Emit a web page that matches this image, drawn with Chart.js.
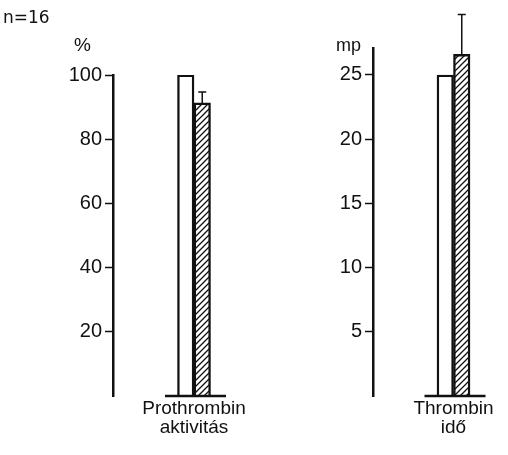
<!DOCTYPE html>
<html>
<head>
<meta charset="utf-8">
<script src="https://cdn.jsdelivr.net/npm/chart.js@4.4.0/dist/chart.umd.min.js"></script>
<style>
html,body{margin:0;padding:0;width:508px;height:455px;overflow:hidden;background:#fff;}
canvas{position:absolute;top:0;}
#cL{left:0;}
#cR{left:250px;}
</style>
</head>
<body>
<canvas id="cL" width="290" height="455"></canvas>
<canvas id="cR" width="290" height="455"></canvas>
<script>
// ---- data ----
const categoriesLeft = [['Prothrombin', 'aktivitás']];
const categoriesRight = [['Thrombin', 'idő']];
const seriesNames = ['kontroll', 'kezelt'];
const leftControl = [100];
const leftTreated = [91.3];
const leftTreatedErr = [3.4];
const rightControl = [25];
const rightTreated = [26.6];
const rightTreatedErr = [3.1];
const leftTickStep = 20;
const leftAxisMax = 100;
const rightTickStep = 5;
const rightAxisMax = 27.1;
const sampleNote = 'n=16';
const leftUnit = '%';
const rightUnit = 'mp';

const FONT = "'Liberation Sans', Arial, sans-serif";
const INK = '#111';

function hatch() {
  const c = document.createElement('canvas');
  c.width = 6; c.height = 6;
  const g = c.getContext('2d');
  g.fillStyle = '#fff'; g.fillRect(0, 0, 6, 6);
  g.strokeStyle = INK; g.lineWidth = 1.3;
  g.beginPath();
  g.moveTo(0, 6); g.lineTo(6, 0);
  g.moveTo(-1, 1); g.lineTo(1, -1);
  g.moveTo(5, 7); g.lineTo(7, 5);
  g.stroke();
  return g.createPattern(c, 'repeat');
}

const extrasPlugin = {
  id: 'extras',
  afterDatasetsDraw(chart, args, opts) {
    const ctx = chart.ctx;
    const ys = chart.scales.y, xs = chart.scales.x;
    ctx.save();
    ctx.strokeStyle = INK;
    const meta = chart.getDatasetMeta(1);
    const errs = opts.errors || [];
    meta.data.forEach((bar, i) => {
      const e = errs[i];
      if (e == null) return;
      const v = chart.data.datasets[1].data[i];
      const yTop = ys.getPixelForValue(v + e);
      ctx.lineWidth = 1.5;
      ctx.beginPath();
      ctx.moveTo(bar.x, bar.y);
      ctx.lineTo(bar.x, yTop);
      ctx.moveTo(bar.x - 4, yTop);
      ctx.lineTo(bar.x + 4, yTop);
      ctx.stroke();
    });
    const y0 = ys.getPixelForValue(0);
    const cx = xs.getPixelForValue(0);
    ctx.lineWidth = 2.5;
    ctx.beginPath();
    ctx.moveTo(cx - 29, y0);
    ctx.lineTo(cx + 32, y0);
    ctx.stroke();
    (opts.texts || []).forEach(t => {
      ctx.fillStyle = INK;
      ctx.font = t.font;
      ctx.textAlign = 'left';
      ctx.textBaseline = 'alphabetic';
      ctx.fillText(t.text, t.x, t.y);
    });
    ctx.restore();
  }
};

function makeChart(id, cats, ctrl, trt, err, step, max, yWidth, padTop, padRight, texts) {
  return new Chart(document.getElementById(id), {
    type: 'bar',
    data: {
      labels: cats,
      datasets: [
        { label: seriesNames[0], data: ctrl, backgroundColor: '#fff', borderColor: INK, borderWidth: 2.4, borderSkipped: 'start', barThickness: 16.5 },
        { label: seriesNames[1], data: trt, backgroundColor: hatch(), borderColor: INK, borderWidth: 2.4, borderSkipped: 'start', barThickness: 16.5 }
      ]
    },
    options: {
      responsive: false,
      animation: false,
      layout: { padding: { left: 0, right: padRight, top: padTop, bottom: 0 } },
      plugins: {
        legend: { display: false },
        tooltip: { enabled: false },
        extras: { errors: err, texts: texts }
      },
      scales: {
        x: {
          grid: { display: false, drawTicks: false },
          border: { display: false },
          ticks: { color: INK, font: { family: FONT, size: 19, lineHeight: 1.0 }, padding: 3, maxRotation: 0 },
          afterFit(s) { s.height = 59; }
        },
        y: {
          min: 0, max: max,
          border: { display: true, color: INK, width: 2.5 },
          grid: {
            drawOnChartArea: false, drawTicks: true, tickLength: 8, tickWidth: 1.5,
            tickColor: c => (c.tick && c.tick.value === 0) ? 'rgba(0,0,0,0)' : INK
          },
          ticks: {
            stepSize: step, includeBounds: false, color: INK, padding: 3,
            font: { family: FONT, size: 20 },
            callback: v => v === 0 ? '' : String(v)
          },
          afterFit(s) { s.width = yWidth; }
        }
      }
    },
    plugins: [extrasPlugin]
  });
}

makeChart('cL', categoriesLeft, leftControl, leftTreated, leftTreatedErr, leftTickStep, leftAxisMax, 113, 75, 15, [
  { text: sampleNote, x: 3, y: 23, font: "17px 'DejaVu Sans', sans-serif" },
  { text: leftUnit, x: 74, y: 51, font: "19px " + FONT }
]);
makeChart('cR', categoriesRight, rightControl, rightTreated, rightTreatedErr, rightTickStep, rightAxisMax, 123, 48, 6, [
  { text: rightUnit, x: 86, y: 51, font: "18px " + FONT }
]);
</script>
</body>
</html>
